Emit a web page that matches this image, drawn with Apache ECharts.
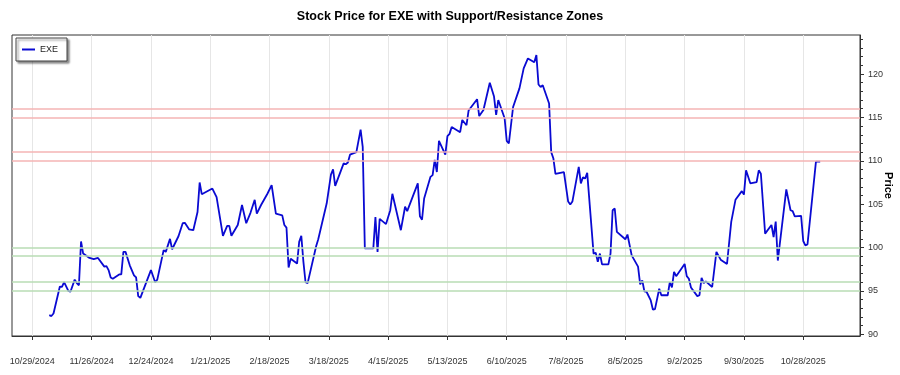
<!DOCTYPE html>
<html>
<head>
<meta charset="utf-8">
<script src="https://cdn.jsdelivr.net/npm/echarts@6/dist/echarts.min.js"></script>
<style>html,body{margin:0;padding:0;background:#fff}#c{width:900px;height:375px}</style>
</head>
<body>
<div id="c"></div>
<script>
// Trading days, given as days after 10/29/2024, and closing prices
const baseDate = '10/29/2024';
const dayOffsets = [8,9,10,13,14,15,17,18,20,21,22,23,24,27,29,31,34,35,36,37,38,41,42,43,44,46,48,49,50,51,
  56,58,59,62,63,65,66,69,71,72,74,76,78,79,80,85,87,90,92,93,94,97,99,101,103,105,106,108,111,113,
  115,118,119,120,121,122,125,126,127,128,129,130,134,135,136,139,141,142,143,147,148,149,150,153,155,156,157,161,162,163,
  164,167,169,170,174,176,177,182,183,184,185,188,189,190,191,192,195,196,197,198,202,203,205,206,210,211,213,216,218,219,
  220,223,224,225,227,230,232,234,237,238,239,240,241,244,245,246,247,251,253,254,255,258,259,260,261,262,265,266,267,268,
  269,272,273,274,275,276,280,281,283,286,287,288,289,290,292,293,294,296,297,300,301,302,303,304,308,309,310,311,314,315,
  316,317,318,321,323,325,328,330,332,335,336,337,339,342,343,344,346,349,350,351,352,356,358,359,360,363,364,365,366,370,372];
const prices = [92.2,92.1,92.4,95.5,95.45,96.0,95.0,94.9,96.3,95.9,95.65,100.7,99.3,98.8,98.65,98.8,97.8,97.85,97.4,96.55,96.4,96.9,96.9,99.5,99.5,97.95,96.8,96.55,94.4,94.2,
  97.4,96.0,96.3,99.7,99.5,101.0,99.8,101.3,102.8,102.85,102.1,102.0,104.1,107.5,106.15,106.8,105.8,101.35,102.5,102.5,101.35,102.6,104.9,102.8,104.0,105.5,103.9,104.9,106.2,107.2,
  103.9,103.7,102.6,102.3,97.7,98.7,98.15,100.65,101.35,98.35,96.0,95.9,100.15,100.95,102.0,105.1,108.4,109.0,107.1,109.7,109.6,109.8,110.7,111.0,113.6,111.6,99.9,99.9,103.5,99.5,
  103.3,102.7,104.3,106.2,102.0,104.7,104.2,107.4,103.6,103.2,105.65,108.15,108.35,110.1,108.7,112.3,110.7,112.85,113.1,113.9,113.3,114.7,114.1,115.8,117.1,115.15,115.85,119.0,117.4,115.3,
  117.0,114.9,112.3,112.0,116.2,118.35,120.65,121.8,121.35,122.2,118.8,118.5,118.7,116.6,111.0,110.3,108.5,108.7,105.3,104.95,105.3,109.3,107.4,108.1,107.95,108.6,99.3,99.4,98.35,99.3,
  98.05,98.05,99.3,104.3,104.5,101.8,100.95,101.5,99.1,97.8,95.75,96.2,94.95,94.9,93.9,92.85,92.9,95.25,94.5,94.5,96.0,95.4,97.2,96.7,98.1,96.7,96.4,95.4,94.4,94.5,
  96.5,95.9,96.1,95.45,99.5,98.6,98.1,102.95,105.5,106.5,106.1,108.9,107.4,107.55,108.9,108.5,101.6,102.6,101.2,103.0,98.5,106.7,104.3,104.2,103.6,103.65,100.75,100.25,100.35,109.9,109.9];
const tickLabels = ['10/29/2024','11/26/2024','12/24/2024','1/21/2025','2/18/2025','3/18/2025','4/15/2025',
  '5/13/2025','6/10/2025','7/8/2025','8/5/2025','9/2/2025','9/30/2025','10/28/2025'];
const priceTicks = [90,95,100,105,110,115,120];
const minorPriceTicks = [90,91,92,93,94,95,96,97,98,99,100,101,102,103,104,105,106,107,108,109,110,111,112,113,114,115,116,117,118,119,120,121,122,123,124];
const resistanceLevels = [110,111,115,116];
const supportLevels = [95,96,99,100];
const seriesName = 'EXE';

const DAY = 86400000;
const base = new Date(baseDate).getTime();
const toDay = s => Math.round((new Date(s).getTime() - base) / DAY);
const tickDays = tickLabels.map(toDay);
const labelByDay = {};
tickDays.forEach((d, i) => { labelByDay[d] = tickLabels[i]; });
const lineData = dayOffsets.map((d, i) => [d, prices[i]]);

const W = 900, GRID_L = 12, GRID_R = 40;
const FONT = 'Liberation Sans';
const chart = echarts.init(document.getElementById('c'));
chart.setOption({
  animation: false,
  textStyle: { fontFamily: FONT },
  title: {
    text: 'Stock Price for EXE with Support/Resistance Zones',
    left: 'center', top: 5,
    textStyle: { fontSize: 12.5, fontWeight: 'bold', color: '#000', fontFamily: FONT }
  },
  legend: {
    data: [seriesName],
    left: 16, top: 38,
    orient: 'vertical',
    icon: 'rect', itemWidth: 13, itemHeight: 2, itemGap: 4,
    padding: [7, 9, 7, 6],
    backgroundColor: '#fff',
    borderColor: '#444', borderWidth: 1, borderRadius: 0,
    shadowColor: 'rgba(0,0,0,0.45)', shadowBlur: 2, shadowOffsetX: 2, shadowOffsetY: 2,
    textStyle: { fontSize: 9, color: '#222', fontFamily: FONT }
  },
  grid: {
    left: GRID_L, right: GRID_R, top: 35, bottom: 39,
    outerBoundsMode: 'none', containLabel: false,
    show: true, borderColor: '#333', borderWidth: 1, backgroundColor: 'transparent'
  },
  xAxis: {
    type: 'value',
    min: -9.6, max: 390.8,
    axisLine: { show: true, onZero: false, lineStyle: { color: '#333', width: 1 } },
    axisTick: { show: true, customValues: tickDays, length: 4, lineStyle: { color: '#333' } },
    axisLabel: {
      customValues: tickDays, margin: 21, fontSize: 9, color: '#333', fontFamily: FONT,
      formatter: v => labelByDay[Math.round(v)] || ''
    },
    splitLine: { show: true, lineStyle: { color: '#e6e6e6', width: 1 } }
  },
  yAxis: [{
    type: 'value', position: 'right',
    min: 89.8, max: 124.5,
    name: 'Price', nameLocation: 'middle', nameRotate: -90, nameGap: 23, nameMoveOverlap: false,
    nameTextStyle: { fontSize: 11, fontWeight: 'bold', color: '#000', fontFamily: FONT },
    axisLine: { show: true, onZero: false, lineStyle: { color: '#333', width: 1 } },
    axisTick: { show: true, customValues: priceTicks, length: 4, lineStyle: { color: '#333' } },
    axisLabel: { customValues: priceTicks, margin: 8, fontSize: 9, color: '#333', fontFamily: FONT },
    splitLine: { show: false }
  }, {
    // minor ticks, drawn at the right edge of the plot
    type: 'value', position: 'left', offset: -(W - GRID_L - GRID_R),
    min: 89.8, max: 124.5,
    axisLine: { show: false, onZero: false },
    axisTick: { show: true, inside: true, customValues: minorPriceTicks, length: 3, lineStyle: { color: '#333' } },
    axisLabel: { show: false },
    splitLine: { show: false }
  }],
  series: [{
    name: 'zones', type: 'line', data: [], z: 1, silent: true,
    markLine: {
      silent: true, symbol: 'none', label: { show: false },
      data: resistanceLevels.map(v => ({ yAxis: v, lineStyle: { color: '#f4b4b4', width: 1.5, type: 'solid' } }))
        .concat(supportLevels.map(v => ({ yAxis: v, lineStyle: { color: '#b9dcb4', width: 1.5, type: 'solid' } })))
    }
  }, {
    name: seriesName, type: 'line', data: lineData, z: 3,
    showSymbol: false, symbol: 'none',
    lineStyle: { color: '#0a0ad2', width: 1.8 },
    itemStyle: { color: '#0a0ad2' }
  }]
});
</script>
</body>
</html>
